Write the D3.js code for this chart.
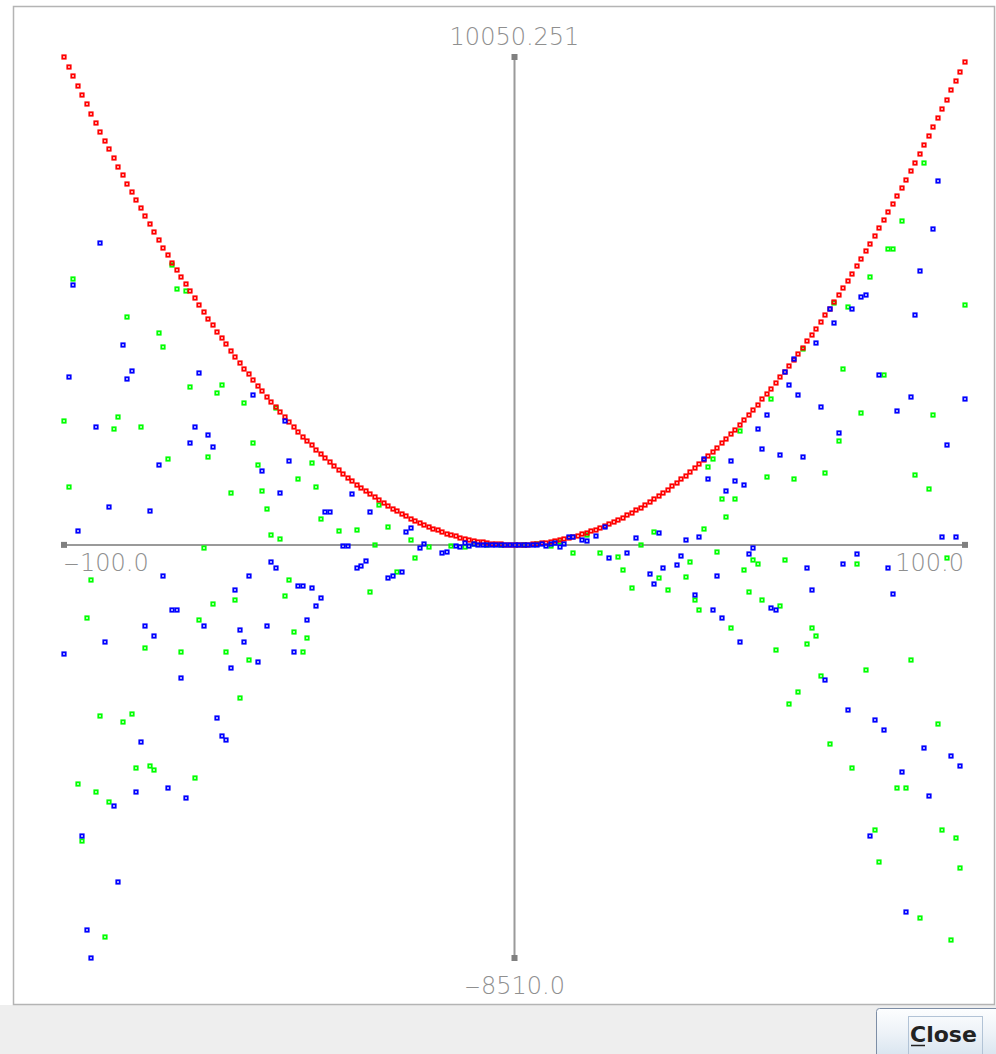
<!DOCTYPE html>
<html><head><meta charset="utf-8">
<script src="https://cdn.jsdelivr.net/npm/d3@7"></script>
<style>html,body{margin:0;padding:0;background:#fff;overflow:hidden}svg{display:block}</style>
</head><body>
<svg id="c" width="996" height="1054"></svg>
<script>
// ---- data ----
const xDomain = [-100.0, 100.0];
const yDomain = [-8510.0, 10050.251];
const xTickLabels = ["-100.0", "100.0"];
const yTickLabels = ["-8510.0", "10050.251"];
const buttonLabel = "Close";

const redX = [-100,-99,-98,-97,-96,-95,-94,-93,-92,-91,-90,-89,-88,-87,-86,-85,-84,-83,-82,-81,-80,-79,-78,-77,-76,-75,-74,-73,-72,-71,-70,-69,-68,-67,-66,-65,-64,-63,-62,-61,-60,-59,-58,-57,-56,-55,-54,-53,-52,-51,-50,-49,-48,-47,-46,-45,-44,-43,-42,-41,-40,-39,-38,-37,-36,-35,-34,-33,-32,-31,-30,-29,-28,-27,-26,-25,-24,-23,-22,-21,-20,-19,-18,-17,-16,-15,-14,-13,-12,-11,-10,-9,-8,-7,-6,-5,-4,-3,-2,-1,0,1,2,3,4,5,6,7,8,9,10,11,12,13,14,15,16,17,18,19,20,21,22,23,24,25,26,27,28,29,30,31,32,33,34,35,36,37,38,39,40,41,42,43,44,45,46,47,48,49,50,51,52,53,54,55,56,57,58,59,60,61,62,63,64,65,66,67,68,69,70,71,72,73,74,75,76,77,78,79,80,81,82,83,84,85,86,87,88,89,90,91,92,93,94,95,96,97,98,99,100];
const redY = [10050.25,9850.5,9653,9457.5,9264,9072.5,8883,8695.5,8510,8326.5,8145,7965.5,7788,7612.5,7439,7267.5,7098,6930.5,6765,6601.5,6440,6280.5,6123,5967.5,5814,5662.5,5513,5365.5,5220,5076.5,4935,4795.5,4658,4522.5,4389,4257.5,4128,4000.5,3875,3751.5,3630,3510.5,3393,3277.5,3164,3052.5,2943,2835.5,2730,2626.5,2525,2425.5,2328,2232.5,2139,2047.5,1958,1870.5,1785,1701.5,1620,1540.5,1463,1387.5,1314,1242.5,1173,1105.5,1040,976.5,915,855.5,798,742.5,689,637.5,588,540.5,495,451.5,410,370.5,333,297.5,264,232.5,203,175.5,150,126.5,105,85.5,68,52.5,39,27.5,18,10.5,5,1.5,0,0.5,3,7.5,14,22.5,33,45.5,60,76.5,95,115.5,138,162.5,189,217.5,248,280.5,315,351.5,390,430.5,473,517.5,564,612.5,663,715.5,770,826.5,885,945.5,1008,1072.5,1139,1207.5,1278,1350.5,1425,1501.5,1580,1660.5,1743,1827.5,1914,2002.5,2093,2185.5,2280,2376.5,2475,2575.5,2678,2782.5,2889,2997.5,3108,3220.5,3335,3451.5,3570,3690.5,3813,3937.5,4064,4192.5,4323,4455.5,4590,4726.5,4865,5005.5,5148,5292.5,5439,5587.5,5738,5890.5,6045,6201.5,6360,6520.5,6683,6847.5,7014,7182.5,7353,7525.5,7700,7876.5,8055,8235.5,8418,8602.5,8789,8977.5,9168,9360.5,9555,9751.5,9950];

const greenX = [-100,-99,-98,-97,-96,-95,-94,-93,-92,-91,-90,-89,-88,-87,-86,-85,-84,-83,-82,-81,-80,-79,-78,-77,-76,-75,-74,-73,-72,-71,-70,-69,-68,-67,-66,-65,-64,-63,-62,-61,-60,-59,-58,-57,-56,-55,-54,-53,-52,-51,-50,-49,-48,-47,-46,-45,-44,-43,
  -39,-35,-32,-31,-30,-28,-26,-23,-22,-19,-14,-11,-9,-6,-3,2,5,8,10,13,16,19,23,24,26,28,31,32,34,38,39,40,
  41,42,43,44,45,46,47,48,49,50,51,52,53,54,55,56,57,58,59,60,61,62,63,64,65,66,67,68,69,70,71,72,73,74,75,76,77,78,79,80,81,82,83,84,85,86,87,88,89,90,91,92,93,94,95,96,97,98,99,100];
const greenY = [2550,1190,5470,-4920,-6090,-1500,-720,-5090,-3520,-8070,-5290,2380,2630,-3650,4690,-3480,-4590,2420,-2120,-4550,-4630,4360,4070,1760,5760,5270,-2200,5230,3250,-4800,-1540,-60,1810,-1220,3120,3290,-2200,1060,-1130,-3150,2920,-2370,2090,1640,1110,740,200,2830,120,-1050,-720,-1790,1350,-2200,-1920,1680,1190,530,
  290,310,-970,0,820,370,-560,100,-270,-40,-20,-50,20,-10,0,0,10,-30,50,-160,210,-160,-250,-510,-890,0,270,-680,-930,-660,-350,-1130,
  -1340,320,1600,1760,-140,940,570,-1710,940,2340,-510,-970,-310,-390,-1130,1390,3000,-2160,-1260,-310,-3270,1350,-3030,4030,-2040,-1710,-1870,-2700,1480,-4100,4990,2140,3620,4900,-4590,-390,2710,-2570,5510,-5870,-6530,3490,6090,6090,-5000,6670,-5000,-2370,1440,-7680,7870,1150,2670,-3690,-5870,-270,-8140,-6030,-6650,4940];

const blueX = [-100,-99,-98,-97,-96,-95,-94,-93,-92,-91,-90,-89,-88,-87,-86,-85,-84,-83,-82,-81,-80,-79,-78,-77,-76,-75,-74,-73,-72,-71,-70,-69,-68,-67,-66,-65,-64,-63,-62,-61,-60,-59,-58,-57,-56,-55,-54,-53,-52,-51,-50,-49,-48,-47,-46,-45,-44,-43,
  -42,-41,-38,-37,-36,-35,-34,-33,-32,-28,-27,-25,-24,-23,-21,-20,-16,-15,-13,-12,-11,-10,-9,-8,-7,-6,-5,-4,-3,-2,-1,0,1,2,3,4,5,6,7,8,9,10,11,12,13,15,16,18,20,21,25,27,30,31,32,33,36,37,38,40,
  41,42,43,44,45,46,47,48,49,50,51,52,53,54,55,56,57,58,59,60,61,62,63,64,65,66,67,68,69,70,71,72,73,74,75,76,77,78,79,80,81,82,83,84,85,86,87,88,89,90,91,92,93,94,95,96,97,98,99,100];
const blueY = [-2240,3450,5350,280,-5990,-7930,-8510,2420,6210,-2000,780,-5380,-6940,4110,3410,3580,-5090,-4060,-1670,690,-1870,1640,-640,-5000,-1340,-1340,-2740,-5210,2090,2420,3540,-1670,2260,2010,-3560,-3930,-4020,-2530,-930,-1750,-2000,-640,3080,-2410,1520,-1670,-350,-470,1060,2550,1720,-2200,-840,-840,-1540,-890,-1260,-1090,
  680,680,-20,-20,1050,-470,-430,-330,680,-680,-640,-560,270,350,-60,20,-160,-140,-20,-40,30,-20,10,0,-10,5,0,-5,0,0,0,0,0,0,-3,5,-10,10,-20,15,30,-40,20,160,160,100,80,190,370,-270,-160,140,-600,-800,250,-470,-410,-230,100,-1030,
  160,1760,1350,-1340,-640,-1500,1110,1720,1310,-2000,1230,-190,-60,2380,1970,2670,-1300,-1340,1850,3560,3290,3820,3080,1810,-470,-930,4150,2840,-2780,4850,4570,2300,-390,-3400,4850,-190,5100,5140,-5990,-3600,3490,-3810,-470,-1010,2750,-4680,-7560,3040,4730,5640,-4180,-5170,6500,7490,160,2050,-4350,160,-4550,3000];

// ---- drawing ----
const svg = d3.select("#c");
const W = 996, H = 1054;
const x = d3.scaleLinear().domain(xDomain).range([64, 965]);
const y = d3.scaleLinear().domain(yDomain).range([958, 57]);

// window background
svg.append("rect").attr("x",0).attr("y",0).attr("width",W).attr("height",H).attr("fill","#ffffff");
svg.append("rect").attr("x",0).attr("y",1005).attr("width",W).attr("height",H-1005).attr("fill","#eeeeee");
svg.append("rect").attr("x",13.5).attr("y",6.5).attr("width",981).attr("height",998)
  .attr("fill","#ffffff").attr("stroke","#b4b4b4").attr("stroke-width",1.5);

// axes
const axisColor = "#9a9a9a";
const g = svg.append("g");
g.append("line").attr("x1",x(xDomain[0])).attr("x2",x(xDomain[1])).attr("y1",y(0)).attr("y2",y(0))
  .attr("stroke",axisColor).attr("stroke-width",2);
g.append("line").attr("x1",x(0)).attr("x2",x(0)).attr("y1",y(yDomain[1])).attr("y2",y(yDomain[0]))
  .attr("stroke",axisColor).attr("stroke-width",2);
const ends = [[x(xDomain[0]),y(0)],[x(xDomain[1]),y(0)],[x(0),y(yDomain[1])],[x(0),y(yDomain[0])]];
g.selectAll("rect.end").data(ends).join("rect").attr("class","end")
  .attr("x",d=>d[0]-3).attr("y",d=>d[1]-3).attr("width",6).attr("height",6).attr("fill","#808080");

function label(t, px, py, anchor){
  const e = g.append("text").attr("x",px).attr("y",py).attr("text-anchor",anchor)
    .style("font-family","'DejaVu Sans', sans-serif").style("font-weight","200")
    .style("font-size","24px").style("fill","#8f8f8f");
  if (t[0] === "-") {
    e.append("tspan").attr("textLength", 17).attr("lengthAdjust","spacingAndGlyphs").text("-");
    e.append("tspan").text(t.slice(1));
  } else {
    e.text(t);
  }
}
label(xTickLabels[0], x(xDomain[0]) - 1, y(0) + 26, "start");
label(xTickLabels[1], x(xDomain[1]) - 1, y(0) + 26, "end");
label(yTickLabels[1], x(0), y(yDomain[1]) - 12, "middle");
label(yTickLabels[0], x(0), y(yDomain[0]) + 36, "middle");

// points
function series(xs, ys, color){
  const pts = xs.map((v,i)=>[v, ys[i]]);
  svg.append("g").selectAll("rect").data(pts).join("rect")
    .attr("x", d => Math.round(x(d[0])) - 1.7)
    .attr("y", d => Math.round(y(d[1])) - 1.7)
    .attr("width", 3.4).attr("height", 3.4)
    .attr("fill", "none").attr("stroke", color).attr("stroke-width", 1.8);
}
series(greenX, greenY, "#00ff00");
series(redX, redY, "#ff0000");
series(blueX, blueY, "#0000ff");

// Close button
const defs = svg.append("defs");
const grad = defs.append("linearGradient").attr("id","btn").attr("x1",0).attr("y1",0).attr("x2",0).attr("y2",1);
grad.append("stop").attr("offset","0%").attr("stop-color","#fdfeff");
grad.append("stop").attr("offset","45%").attr("stop-color","#eef3f8");
grad.append("stop").attr("offset","100%").attr("stop-color","#d5e2ee");
svg.append("rect").attr("x",876.5).attr("y",1008.5).attr("width",130).attr("height",52).attr("rx",3)
  .attr("fill","url(#btn)").attr("stroke","#7d8ea6").attr("stroke-width",1);
svg.append("rect").attr("x",908.5).attr("y",1016.5).attr("width",74).attr("height",40)
  .attr("fill","none").attr("stroke","#b2c3d6").attr("stroke-width",1);
svg.append("text").text(buttonLabel).attr("x",910).attr("y",1042)
  .style("font-family","'DejaVu Sans', sans-serif").style("font-weight","bold").style("font-size","22px").style("fill","#222");
svg.append("line").attr("x1",911).attr("x2",925).attr("y1",1045.5).attr("y2",1045.5).attr("stroke","#222").attr("stroke-width",1.5);
</script>
</body></html>
